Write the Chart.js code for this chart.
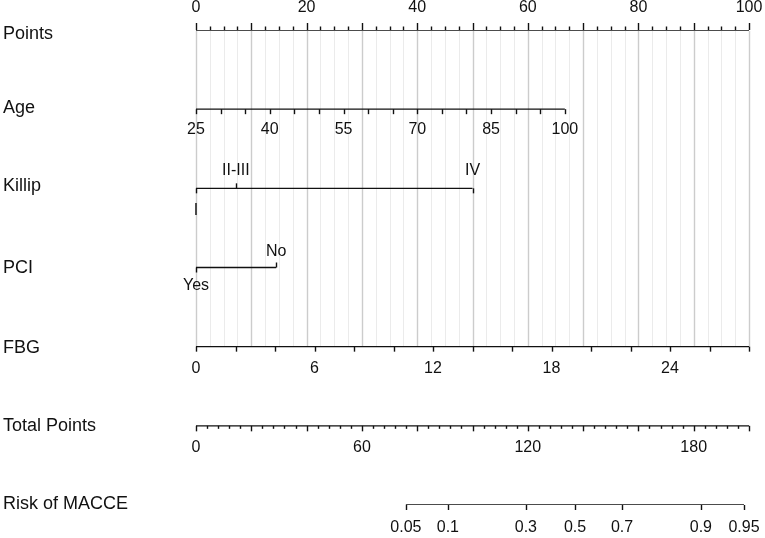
<!DOCTYPE html>
<html><head><meta charset="utf-8">
<script src="https://cdn.jsdelivr.net/npm/chart.js@4/dist/chart.umd.min.js"></script>
<style>html,body{margin:0;padding:0;background:#fff}#wrap{width:765px;height:538px}</style>
</head><body><div id="wrap"><canvas id="c" width="765" height="538"></canvas></div>
<script>
// ---- data ----
const rowNames = ["Points", "Age", "Killip", "PCI", "FBG", "Total Points", "Risk of MACCE"];

const pointsMajor = [0, 10, 20, 30, 40, 50, 60, 70, 80, 90, 100];
const pointsMinor = [2.5, 5, 7.5, 12.5, 15, 17.5, 22.5, 25, 27.5, 32.5, 35, 37.5, 42.5, 45, 47.5,
  52.5, 55, 57.5, 62.5, 65, 67.5, 72.5, 75, 77.5, 82.5, 85, 87.5, 92.5, 95, 97.5];
const pointsLabels = [0, 20, 40, 60, 80, 100];

const ageValues = [25, 30, 35, 40, 45, 50, 55, 60, 65, 70, 75, 80, 85, 90, 95, 100];
const ageLabels = [25, 40, 55, 70, 85, 100];
const ageRange = [25, 100];
const agePointsRange = [0, 66.7];

const killipCats = ["I", "II-III", "IV"];
const killipPoints = [0, 7.2, 50];

const pciCats = ["Yes", "No"];
const pciPoints = [0, 14.5];

const fbgValues = [0, 2, 4, 6, 8, 10, 12, 14, 16, 18, 20, 22, 24, 26, 28];
const fbgLabels = [0, 6, 12, 18, 24];
const fbgRange = [0, 28];
const fbgPointsRange = [0, 100];

const totalMajor = [0, 20, 40, 60, 80, 100, 120, 140, 160, 180, 200];
const totalMinor = [4, 8, 12, 16, 24, 28, 32, 36, 44, 48, 52, 56, 64, 68, 72, 76, 84, 88, 92, 96,
  104, 108, 112, 116, 124, 128, 132, 136, 144, 148, 152, 156, 164, 168, 172, 176, 184, 188, 192, 196];
const totalLabels = [0, 60, 120, 180];

const riskLabels = ["0.05", "0.1", "0.3", "0.5", "0.7", "0.9", "0.95"];
const riskTotalPoints = [75.9, 91.1, 119.3, 137.1, 154.1, 182.6, 198.2];

// ---- helpers ----
function toPts(v, range, pr) { return pr[0] + (v - range[0]) / (range[1] - range[0]) * (pr[1] - pr[0]); }
function seg(x0, x1, row) { return [{x: x0, y: row}, {x: x1, y: row}]; }

const FONT = '"Liberation Sans", Arial, Helvetica, sans-serif';
const INK = '#111';

const lineDs = (data, xAxisID) => ({
  type: 'line', data, xAxisID: xAxisID || 'x', yAxisID: 'y',
  borderColor: INK, borderWidth: 1.4, pointRadius: 0, fill: false, tension: 0
});

const datasets = [
  lineDs(seg(pointsMajor[0], pointsMajor[pointsMajor.length - 1], 0)),
  lineDs(seg(agePointsRange[0], agePointsRange[1], 1)),
  lineDs(seg(killipPoints[0], killipPoints[killipPoints.length - 1], 2)),
  lineDs(seg(pciPoints[0], pciPoints[pciPoints.length - 1], 3)),
  lineDs(seg(fbgPointsRange[0], fbgPointsRange[1], 4)),
  lineDs(seg(totalMajor[0], totalMajor[totalMajor.length - 1], 5), 'xTotal'),
  lineDs(seg(riskTotalPoints[0], riskTotalPoints[riskTotalPoints.length - 1], 6), 'xTotal')
];

const nomoPlugin = {
  id: 'nomo',
  beforeDatasetsDraw(chart) {
    const ctx = chart.ctx, x = chart.scales.x, y = chart.scales.y;
    const yTop = y.getPixelForValue(0) + 1, yBot = y.getPixelForValue(4);
    ctx.save();
    ctx.lineWidth = 1;
    ctx.strokeStyle = '#ebebeb';
    pointsMinor.forEach(v => {
      const px = Math.round(x.getPixelForValue(v)) + 0.5;
      ctx.beginPath(); ctx.moveTo(px, yTop); ctx.lineTo(px, yBot); ctx.stroke();
    });
    ctx.strokeStyle = '#cccccc';
    ctx.lineWidth = 1.4;
    pointsMajor.forEach(v => {
      const px = Math.round(x.getPixelForValue(v)) + 0.5;
      ctx.beginPath(); ctx.moveTo(px, yTop); ctx.lineTo(px, yBot); ctx.stroke();
    });
    ctx.restore();
  },
  afterDatasetsDraw(chart) {
    const ctx = chart.ctx, x = chart.scales.x, xt = chart.scales.xTotal, y = chart.scales.y;
    ctx.save();
    ctx.strokeStyle = INK; ctx.fillStyle = INK; ctx.lineWidth = 1.4;
    const tick = (px, row, len) => {
      const py = y.getPixelForValue(row);
      const X = Math.round(px) + 0.5;
      ctx.beginPath(); ctx.moveTo(X, py); ctx.lineTo(X, py + len); ctx.stroke();
    };
    const label = (txt, px, row, dy) => {
      ctx.fillText(String(txt), px, y.getPixelForValue(row) + dy);
    };
    // ticks
    pointsMajor.forEach(v => tick(x.getPixelForValue(v), 0, -7));
    pointsMinor.forEach(v => tick(x.getPixelForValue(v), 0, -3.5));
    ageValues.forEach(v => tick(x.getPixelForValue(toPts(v, ageRange, agePointsRange)), 1, 5));
    tick(x.getPixelForValue(killipPoints[0]), 2, 5);
    tick(x.getPixelForValue(killipPoints[1]), 2, -5);
    tick(x.getPixelForValue(killipPoints[2]), 2, 5);
    tick(x.getPixelForValue(pciPoints[0]), 3, 5);
    tick(x.getPixelForValue(pciPoints[1]), 3, -5);
    fbgValues.forEach(v => tick(x.getPixelForValue(toPts(v, fbgRange, fbgPointsRange)), 4, 5));
    totalMajor.forEach(v => tick(xt.getPixelForValue(v), 5, 5.5));
    totalMinor.forEach(v => tick(xt.getPixelForValue(v), 5, 3));
    riskTotalPoints.forEach(v => tick(xt.getPixelForValue(v), 6, 5));

    // tick labels
    ctx.font = '16px ' + FONT;
    ctx.textAlign = 'center'; ctx.textBaseline = 'middle';
    pointsLabels.forEach(v => label(v, x.getPixelForValue(v), 0, -22));
    ageLabels.forEach(v => label(v, x.getPixelForValue(toPts(v, ageRange, agePointsRange)), 1, 20));
    label(killipCats[0], x.getPixelForValue(killipPoints[0]), 2, 22);
    label(killipCats[1], x.getPixelForValue(killipPoints[1]), 2, -18);
    label(killipCats[2], x.getPixelForValue(killipPoints[2]), 2, -18);
    label(pciCats[0], x.getPixelForValue(pciPoints[0]), 3, 18);
    label(pciCats[1], x.getPixelForValue(pciPoints[1]), 3, -16);
    fbgLabels.forEach(v => label(v, x.getPixelForValue(toPts(v, fbgRange, fbgPointsRange)), 4, 22));
    totalLabels.forEach(v => label(v, xt.getPixelForValue(v), 5, 22));
    riskLabels.forEach((t, i) => label(t, xt.getPixelForValue(riskTotalPoints[i]), 6, 23));

    // row names
    ctx.font = '18px ' + FONT;
    ctx.textAlign = 'left';
    const nameDy = [4, -1, -2, 1, 1, 0, -1];
    rowNames.forEach((n, i) => ctx.fillText(n, 3, y.getPixelForValue(i) + nameDy[i]));
    ctx.restore();
  }
};

new Chart(document.getElementById('c'), {
  type: 'line',
  data: { datasets },
  options: {
    responsive: false, animation: false, events: [],
    layout: { padding: { left: 196, right: 16, top: 30, bottom: 33 } },
    plugins: { legend: { display: false }, tooltip: { enabled: false } },
    scales: {
      x: { type: 'linear', min: 0, max: 100, display: false },
      xTotal: { type: 'linear', axis: 'x', min: 0, max: 200, display: false },
      y: { type: 'linear', min: 0, max: 6, reverse: true, display: false }
    }
  },
  plugins: [nomoPlugin]
});
</script>
</body></html>
